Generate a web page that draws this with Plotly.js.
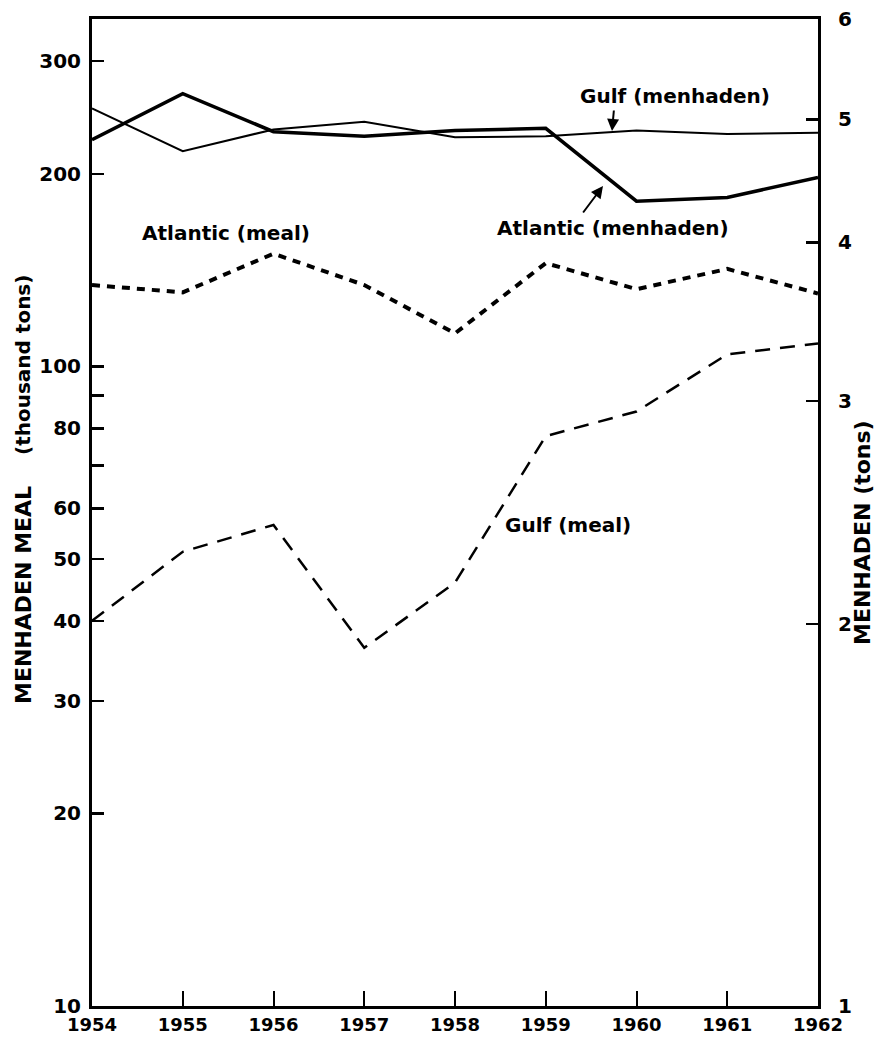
<!DOCTYPE html>
<html>
<head>
<meta charset="utf-8">
<script src="https://cdn.plot.ly/plotly-3.0.1.min.js"></script>
<style>
  html, body { margin: 0; padding: 0; background: #fff; }
  #chart { width: 874px; height: 1037px; }
</style>
</head>
<body>
<div id="chart"></div>
<script>
// ---- data ----
const years = [1954, 1955, 1956, 1957, 1958, 1959, 1960, 1961, 1962];
// menhaden (right axis, tons)
const gulfMenhaden     = [5.10, 4.72, 4.91, 4.98, 4.84, 4.85, 4.90, 4.87, 4.88];
const atlanticMenhaden = [4.82, 5.24, 4.89, 4.85, 4.90, 4.92, 4.31, 4.34, 4.50];
// meal (left axis, thousand tons)
const atlanticMeal = [134, 130.5, 150, 134, 112.6, 145, 132, 142, 130];
const gulfMeal     = [40, 51.3, 56.5, 36.3, 45.9, 77.8, 85, 104.4, 108.6];
// tick labels
const leftTickVals  = [10, 20, 30, 40, 50, 60, 70, 80, 90, 100, 200, 300];
const leftTickText  = ['10', '20', '30', '40', '50', '60', '', '80', '', '100', '200', '300'];
const rightTickVals = [1, 2, 3, 4, 5, 6];
const rightTickText = ['1', '2', '3', '4', '5', '6'];
const yearLabels    = ['1954', '1955', '1956', '1957', '1958', '1959', '1960', '1961', '1962'];

const FONT = 'DejaVu Sans, Liberation Sans, sans-serif';
const black = '#000';

const traces = [
  { x: years, y: gulfMenhaden, yaxis: 'y2', mode: 'lines', name: 'Gulf (menhaden)',
    line: { color: black, width: 2 } },
  { x: years, y: atlanticMenhaden, yaxis: 'y2', mode: 'lines', name: 'Atlantic (menhaden)',
    line: { color: black, width: 3.5 } },
  { x: years, y: atlanticMeal, yaxis: 'y', mode: 'lines', name: 'Atlantic (meal)',
    line: { color: black, width: 4, dash: '8px,7px' } },
  { x: years, y: gulfMeal, yaxis: 'y', mode: 'lines', name: 'Gulf (meal)',
    line: { color: black, width: 2.5, dash: '15px,10px' } }
];

// plot area in pixels
const L = 92, R = 818, T = 19, B = 1006;
const px = x => (x - L) / (R - L);
const py = y => (B - y) / (B - T);

const annFont = { family: FONT, size: 20, color: black, weight: 'bold' };
const tickFont = { family: FONT, size: 20, color: black, weight: 'bold' };

const layout = {
  width: 874, height: 1037,
  margin: { l: L, r: 874 - R, t: T, b: 1037 - B, pad: 0 },
  paper_bgcolor: '#fff', plot_bgcolor: '#fff',
  showlegend: false,
  font: { family: FONT, color: black, size: 20, weight: 'bold' },
  xaxis: {
    range: [1954, 1962], tickvals: years, ticktext: yearLabels,
    ticks: 'inside', ticklen: 15, tickwidth: 2, tickcolor: black,
    showline: true, linewidth: 3, linecolor: black, mirror: true,
    showgrid: false, zeroline: false, ticklabelstandoff: 0,
    tickfont: { family: FONT, size: 18, color: black, weight: 'bold' }
  },
  yaxis: {
    type: 'log', range: [1, 2.543],
    tickvals: leftTickVals, ticktext: leftTickText,
    ticks: 'inside', ticklen: 12, tickwidth: 2.5, tickcolor: black,
    showline: true, linewidth: 3, linecolor: black,
    showgrid: false, zeroline: false, ticklabelstandoff: 4,
    tickfont: tickFont
  },
  yaxis2: {
    type: 'log', range: [0, Math.log10(6)], overlaying: 'y', side: 'right',
    tickvals: rightTickVals, ticktext: rightTickText,
    ticks: 'inside', ticklen: 12, tickwidth: 2.5, tickcolor: black,
    showline: true, linewidth: 3, linecolor: black,
    showgrid: false, zeroline: false, ticklabelstandoff: 13,
    tickfont: tickFont
  },
  annotations: [
    { xref: 'paper', yref: 'paper', x: px(675), y: py(96), text: 'Gulf (menhaden)',
      showarrow: false, font: annFont, xanchor: 'center', yanchor: 'middle' },
    { xref: 'paper', yref: 'paper', x: px(613), y: py(228), text: 'Atlantic (menhaden)',
      showarrow: false, font: annFont, xanchor: 'center', yanchor: 'middle' },
    { xref: 'paper', yref: 'paper', x: px(226), y: py(233), text: 'Atlantic (meal)',
      showarrow: false, font: annFont, xanchor: 'center', yanchor: 'middle' },
    { xref: 'paper', yref: 'paper', x: px(568), y: py(525), text: 'Gulf (meal)',
      showarrow: false, font: annFont, xanchor: 'center', yanchor: 'middle' },
    // arrows
    { xref: 'paper', yref: 'paper', x: px(612), y: py(131), text: '',
      showarrow: true, ax: 2, ay: -22, arrowhead: 2, arrowsize: 1.2, arrowwidth: 2, arrowcolor: black },
    { xref: 'paper', yref: 'paper', x: px(603), y: py(186), text: '',
      showarrow: true, ax: -21, ay: 28, arrowhead: 2, arrowsize: 1.2, arrowwidth: 2, arrowcolor: black },
    // axis titles
    { xref: 'paper', yref: 'paper', x: px(23), y: py(595), text: 'MENHADEN MEAL',
      showarrow: false, textangle: -90, font: { family: FONT, size: 22, color: black, weight: 'bold' },
      xanchor: 'center', yanchor: 'middle' },
    { xref: 'paper', yref: 'paper', x: px(23), y: py(365), text: '(thousand tons)',
      showarrow: false, textangle: -90, font: { family: FONT, size: 20, color: black, weight: 'bold' },
      xanchor: 'center', yanchor: 'middle' },
    { xref: 'paper', yref: 'paper', x: px(862), y: py(533), text: 'MENHADEN (tons)',
      showarrow: false, textangle: -90, font: { family: FONT, size: 22, color: black, weight: 'bold' },
      xanchor: 'center', yanchor: 'middle' }
  ]
};

Plotly.newPlot('chart', traces, layout, { staticPlot: true, displayModeBar: false });
</script>
</body>
</html>
